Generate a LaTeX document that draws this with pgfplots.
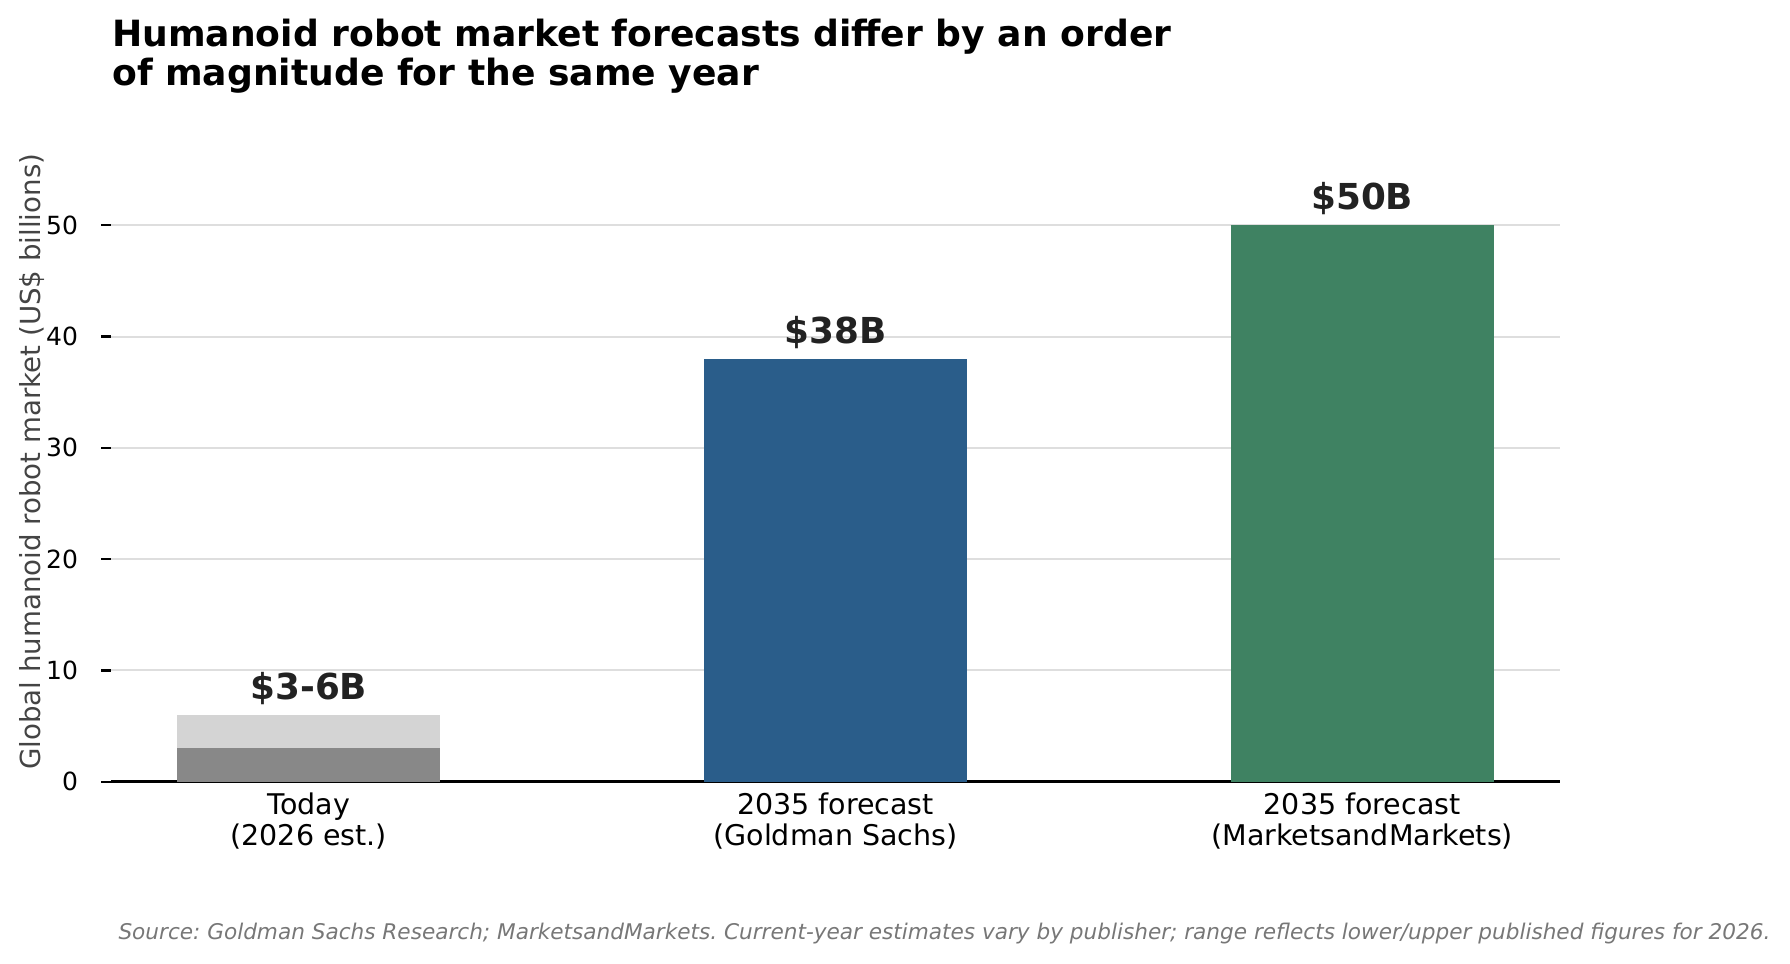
\documentclass[border=0pt]{standalone}
\usepackage{fontspec}
\setmainfont{DejaVu Sans}
\usepackage{pgfplots}
\pgfplotsset{compat=1.18}
\frenchspacing
\definecolor{cLight}{HTML}{D4D4D4}
\definecolor{cDark}{HTML}{888888}
\definecolor{cBlue}{HTML}{2A5D8A}
\definecolor{cGreen}{HTML}{3F8262}
\definecolor{gridc}{HTML}{DEDEDE}
\definecolor{labc}{HTML}{222222}
\definecolor{ylabc}{HTML}{444444}
\definecolor{srcc}{HTML}{777777}
\begin{document}
\begin{tikzpicture}[x=1pt,y=1pt]
\path[use as bounding box] (0,0) rectangle (716,385.6);
\begin{axis}[
  at={(44.5pt,72.9pt)}, anchor=south west,
  scale only axis, width=579.4pt, height=256pt,
  xmin=-0.375, xmax=2.375, ymin=0, ymax=57.5,
  xtick={0,1,2},
  xticklabels={{Today\\(2026 est.)},{2035 forecast\\(Goldman Sachs)},{2035 forecast\\(MarketsandMarkets)}},
  ytick={0,10,20,30,40,50},
  ymajorgrids, grid style={color=gridc, line width=0.8pt},
  axis x line*=bottom, axis y line*=left,
  x axis line style={-, line width=1.1pt, black},
  y axis line style={draw=none},
  xtick style={draw=none},
  ytick style={black, line width=0.9pt},
  tick align=outside, major tick length=3.9pt,
  yticklabel style={font=\fontsize{10}{12}\selectfont, inner sep=0pt, xshift=-9.2pt, anchor=east},
  xticklabel style={font=\fontsize{11.4}{12.5}\selectfont, align=center, inner sep=0pt, yshift=-0.2pt, anchor=north},
  /pgf/number format/assume math mode=true,
  clip=false,
]
\addplot[ybar, bar width=0.5, bar shift=0pt, fill=cLight, draw=none] coordinates {(0,6)};
\addplot[ybar, bar width=0.5, bar shift=0pt, fill=cDark, draw=none] coordinates {(0,3)};
\addplot[ybar, bar width=0.5, bar shift=0pt, fill=cBlue, draw=none] coordinates {(1,38)};
\addplot[ybar, bar width=0.5, bar shift=0pt, fill=cGreen, draw=none] coordinates {(2,50)};
\node[anchor=base, inner sep=0pt, yshift=6.3pt, font=\fontsize{14.3}{16}\selectfont\bfseries, text=labc] at (axis cs:0,6) {\$3-6B};
\node[anchor=base, inner sep=0pt, yshift=6.3pt, font=\fontsize{14.3}{16}\selectfont\bfseries, text=labc] at (axis cs:1,38) {\$38B};
\node[anchor=base, inner sep=0pt, yshift=6.3pt, font=\fontsize{14.3}{16}\selectfont\bfseries, text=labc] at (axis cs:2,50) {\$50B};
\end{axis}
\node[rotate=90, anchor=center, inner sep=0pt, font=\fontsize{11.06}{13}\selectfont, text=ylabc] at (12.8,200.9) {Global humanoid robot market (US\$ billions)};
\node[anchor=base west, inner sep=0pt, font=\fontsize{14.45}{15}\selectfont\bfseries] at (44.7,366.9) {Humanoid robot market forecasts differ by an order};
\node[anchor=base west, inner sep=0pt, font=\fontsize{14.45}{15}\selectfont\bfseries] at (44.7,351.3) {of magnitude for the same year};
\node[anchor=base west, inner sep=0pt, font=\fontsize{8.64}{10}\selectfont\itshape, text=srcc] at (47.2,9.9) {Source: Goldman Sachs Research; MarketsandMarkets. Current-year estimates vary by publisher; range reflects lower/upper published figures for 2026.};
\end{tikzpicture}
\end{document}
